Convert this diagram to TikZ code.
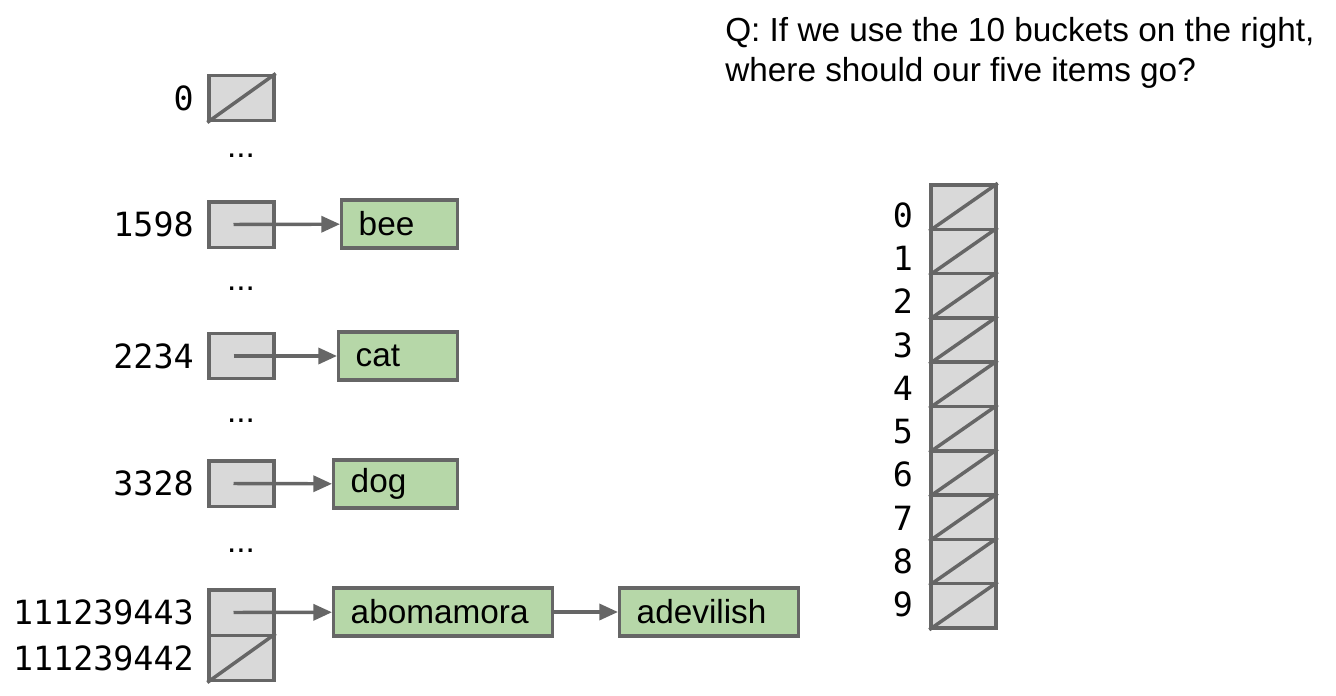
\documentclass[tikz,border=0pt]{standalone}
\usepackage{fontspec}
\setmainfont{Liberation Sans}
\setmonofont{DejaVu Sans Mono}
\usetikzlibrary{positioning,arrows.meta}
\definecolor{linegray}{HTML}{666666}
\definecolor{cellgray}{HTML}{D9D9D9}
\definecolor{itemgreen}{HTML}{B6D7A8}
\begin{document}
\begin{tikzpicture}[x=0.75pt,y=-0.75pt,
  cell/.style={draw=linegray,fill=cellgray,line width=2.6pt,minimum width=48.75pt,minimum height=34.1pt,inner sep=0pt},
  entry/.style={draw=linegray,fill=itemgreen,line width=2.6pt,text width=#1,inner xsep=12.75pt,inner ysep=0pt,minimum height=36pt,align=left,anchor=west,font=\fontsize{25}{30}\selectfont},
  idx/.style={inner sep=0pt,font=\ttfamily\fontsize{25}{30}\selectfont},
  dots/.style={inner sep=0pt,font=\fontsize{25}{30}\selectfont},
  nil/.style={linegray,line width=2.6pt},
  link/.style={linegray,line width=2.6pt,-{Triangle[length=14pt,width=12pt]}}]
\useasboundingbox (0,0) rectangle (1336,696);
% question
\node[anchor=north west,align=left,inner sep=0pt,font=\fontsize{25}{30}\selectfont] (q) at (725,17)
  {Q: If we use the 10 buckets on the right,\\where should our five items go?};
% big table on the left
\node[cell] (c0) at (241.5,98) {};
\draw[nil] (c0.south west) -- (c0.north east);
\node[idx,left=10pt of c0] (l0) {0};
\node[dots] (d1) at (241,156) {...};
\node[cell] (c1598) at (241.5,224.5) {};
\node[idx,left=10pt of c1598] (l1598) {1598};
\node[entry=61.5pt] (bee) at (340,224) {bee};
\draw[link] ([xshift=-6pt]c1598.center) -- (bee);
\node[dots] (d2) at (241,289) {...};
\node[cell] (c2234) at (241.5,356) {};
\node[idx,left=10pt of c2234] (l2234) {2234};
\node[entry=63.75pt] (cat) at (337,356) {cat};
\draw[link] ([xshift=-6pt]c2234.center) -- (cat);
\node[dots] (d3) at (241,421) {...};
\node[cell] (c3328) at (241.5,483.5) {};
\node[idx,left=10pt of c3328] (l3328) {3328};
\node[entry=67.5pt] (dog) at (332,484) {dog};
\draw[link] ([xshift=-6pt]c3328.center) -- (dog);
\node[dots] (d4) at (241,551) {...};
\node[cell] (c443) at (241.5,612.5) {};
\node[idx,left=10pt of c443] (l443) {111239443};
\node[entry=138.75pt] (abo) at (332,612) {abomamora};
\node[entry=108.75pt] (adev) at (618,612) {adevilish};
\draw[link] ([xshift=-6pt]c443.center) -- (abo);
\draw[link] (abo) -- (adev);
\node[cell] (c442) at (241.5,658) {};
\draw[nil] (c442.south west) -- (c442.north east);
\node[idx,left=10pt of c442] (l442) {111239442};
% ten buckets on the right
\foreach \i in {0,...,9} {
  \node[cell,minimum height=33.2pt] (b\i) at (963.5,{185+44.3*(\i+0.5)}) {};
  \draw[nil] (b\i.south west) -- (b\i.north east);
  \node[idx] (n\i) at (903,{215+43.3*\i}) {\i};
}
\end{tikzpicture}
\end{document}
